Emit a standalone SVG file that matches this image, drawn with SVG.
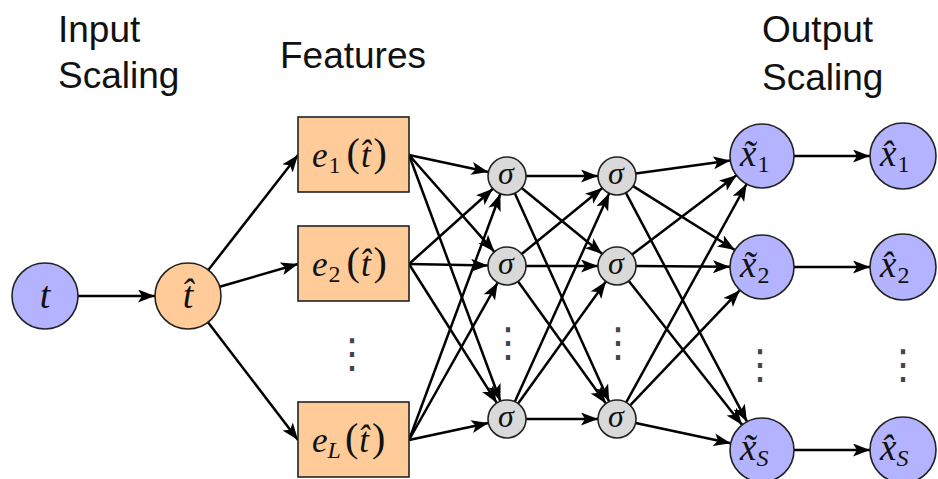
<svg xmlns="http://www.w3.org/2000/svg" width="938" height="479" viewBox="0 0 938 479">
<defs>
<marker id="ah" markerUnits="userSpaceOnUse" markerWidth="18" markerHeight="14" refX="17" refY="6.5" orient="auto">
<path d="M0,0 L17,6.5 L0,13 L4,6.5 z" fill="#000"/>
</marker>
</defs>
<style>
.lbl{font-family:"Liberation Sans",Arial,sans-serif;font-size:37px;fill:#111}
.m{font-family:"Liberation Serif","Times New Roman",serif;font-style:italic;fill:#111}
.r{font-family:"Liberation Serif","Times New Roman",serif;font-style:normal;fill:#111}
.blue{fill:#b3b3ff;stroke:#222;stroke-width:1.6}
.orange{fill:#ffcc99;stroke:#222;stroke-width:1.6}
.gray{fill:#d9d9d9;stroke:#222;stroke-width:1.6}
.e line{stroke:#000;stroke-width:2.5;marker-end:url(#ah)}
.dots{font-family:"DejaVu Sans",sans-serif;font-size:40px;fill:#444;text-anchor:middle}
</style>
<rect width="938" height="479" fill="#fff"/>

<g id="labels">
<text class="lbl" x="58" y="42">Input</text>
<text class="lbl" x="58" y="88">Scaling</text>
<text class="lbl" x="280" y="68">Features</text>
<text class="lbl" x="762" y="42">Output</text>
<text class="lbl" x="762" y="90">Scaling</text>
</g>

<g id="edges" class="e">
<line x1="78" y1="296" x2="155" y2="296"/>
<line x1="208.3" y1="270" x2="298" y2="155"/>
<line x1="219.7" y1="286.8" x2="298" y2="264"/>
<line x1="208" y1="322.2" x2="298" y2="440"/>

<line x1="409" y1="155" x2="488.4" y2="172"/>
<line x1="409" y1="155" x2="494.4" y2="251.8"/>
<line x1="409" y1="155" x2="500.4" y2="401.2"/>
<line x1="409" y1="264" x2="492.9" y2="188.7"/>
<line x1="409" y1="264" x2="488" y2="265.6"/>
<line x1="409" y1="264" x2="496.8" y2="402.9"/>
<line x1="409" y1="440" x2="500.4" y2="193.8"/>
<line x1="409" y1="440" x2="497.7" y2="282.6"/>
<line x1="409" y1="440" x2="488.4" y2="423"/>

<line x1="526" y1="176" x2="598" y2="176"/>
<line x1="521.7" y1="188" x2="602.3" y2="254"/>
<line x1="514.8" y1="193.3" x2="609.2" y2="401.7"/>
<line x1="521.7" y1="254" x2="602.3" y2="188"/>
<line x1="526" y1="266" x2="598" y2="266"/>
<line x1="518.1" y1="281.4" x2="605.9" y2="403.6"/>
<line x1="514.8" y1="401.7" x2="609.2" y2="193.3"/>
<line x1="518.1" y1="403.6" x2="605.9" y2="281.4"/>
<line x1="526" y1="419" x2="598" y2="419"/>

<line x1="635.8" y1="173.4" x2="730.3" y2="160.4"/>
<line x1="633.1" y1="186.1" x2="734.9" y2="250"/>
<line x1="625.9" y1="192.8" x2="747" y2="421.7"/>
<line x1="632.1" y1="254.5" x2="736.5" y2="175.3"/>
<line x1="636" y1="266.1" x2="730" y2="266.8"/>
<line x1="628.8" y1="280.9" x2="742.2" y2="424.9"/>
<line x1="626.2" y1="402.4" x2="746.6" y2="184"/>
<line x1="630.1" y1="405.3" x2="739.9" y2="290.2"/>
<line x1="635.6" y1="423" x2="730.7" y2="443.3"/>

<line x1="794" y1="156" x2="870" y2="156"/>
<line x1="794" y1="267" x2="870" y2="267"/>
<line x1="794" y1="450" x2="870" y2="450"/>
</g>

<g id="node-t">
<circle class="blue" cx="45" cy="296" r="33"/>
<text class="m" x="45" y="308" font-size="38" text-anchor="middle">t</text>
</g>
<g id="node-that">
<circle class="orange" cx="188" cy="296" r="33"/>
<text class="m" x="188" y="308" font-size="38" text-anchor="middle">t̂</text>
</g>

<g id="node-e1">
<rect class="orange" x="298" y="117" width="111" height="75"/>
<text x="312" y="167"><tspan class="m" font-size="35">e</tspan><tspan class="r" font-size="24" dx="1" dy="6">1</tspan><tspan class="r" font-size="40" dx="6" dy="-7">(</tspan><tspan class="m" font-size="35" dx="1" dy="1">t̂</tspan><tspan class="r" font-size="40" dx="3" dy="-1">)</tspan></text>
</g>
<g id="node-e2">
<rect class="orange" x="298" y="226" width="111" height="75"/>
<text x="312" y="276"><tspan class="m" font-size="35">e</tspan><tspan class="r" font-size="24" dx="1" dy="6">2</tspan><tspan class="r" font-size="40" dx="6" dy="-7">(</tspan><tspan class="m" font-size="35" dx="1" dy="1">t̂</tspan><tspan class="r" font-size="40" dx="3" dy="-1">)</tspan></text>
</g>
<g id="node-eL">
<rect class="orange" x="298" y="402" width="111" height="75"/>
<text x="312" y="452"><tspan class="m" font-size="35">e</tspan><tspan class="m" font-size="24" dx="0" dy="6">L</tspan><tspan class="r" font-size="40" dx="4" dy="-7">(</tspan><tspan class="m" font-size="35" dx="1" dy="1">t̂</tspan><tspan class="r" font-size="40" dx="3" dy="-1">)</tspan></text>
</g>
<text class="dots" x="352" y="367">⋮</text>

<g id="node-s11"><circle class="gray" cx="507" cy="176" r="19"/><text class="m" x="506" y="184" font-size="32" text-anchor="middle">σ</text></g>
<g id="node-s12"><circle class="gray" cx="507" cy="266" r="19"/><text class="m" x="506" y="274" font-size="32" text-anchor="middle">σ</text></g>
<g id="node-s13"><circle class="gray" cx="507" cy="419" r="19"/><text class="m" x="506" y="427" font-size="32" text-anchor="middle">σ</text></g>
<g id="node-s21"><circle class="gray" cx="617" cy="176" r="19"/><text class="m" x="616" y="184" font-size="32" text-anchor="middle">σ</text></g>
<g id="node-s22"><circle class="gray" cx="617" cy="266" r="19"/><text class="m" x="616" y="274" font-size="32" text-anchor="middle">σ</text></g>
<g id="node-s23"><circle class="gray" cx="617" cy="419" r="19"/><text class="m" x="616" y="427" font-size="32" text-anchor="middle">σ</text></g>
<text class="dots" x="508" y="356">⋮</text>
<text class="dots" x="618" y="356">⋮</text>

<g id="node-xt1"><circle class="blue" cx="762" cy="156" r="32"/>
<text x="740" y="166"><tspan class="m" font-size="37">x̃</tspan><tspan class="r" font-size="24" dx="1" dy="6">1</tspan></text></g>
<g id="node-xt2"><circle class="blue" cx="762" cy="267" r="32"/>
<text x="740" y="277"><tspan class="m" font-size="37">x̃</tspan><tspan class="r" font-size="24" dx="1" dy="6">2</tspan></text></g>
<g id="node-xtS"><circle class="blue" cx="762" cy="450" r="32"/>
<text x="740" y="460"><tspan class="m" font-size="37">x̃</tspan><tspan class="m" font-size="24" dx="0" dy="6">S</tspan></text></g>
<text class="dots" x="760" y="378">⋮</text>

<g id="node-xh1"><circle class="blue" cx="903" cy="156" r="33"/>
<text x="880" y="166"><tspan class="m" font-size="37">x̂</tspan><tspan class="r" font-size="24" dx="1" dy="6">1</tspan></text></g>
<g id="node-xh2"><circle class="blue" cx="903" cy="267" r="33"/>
<text x="880" y="277"><tspan class="m" font-size="37">x̂</tspan><tspan class="r" font-size="24" dx="1" dy="6">2</tspan></text></g>
<g id="node-xhS"><circle class="blue" cx="903" cy="450" r="33"/>
<text x="880" y="460"><tspan class="m" font-size="37">x̂</tspan><tspan class="m" font-size="24" dx="0" dy="6">S</tspan></text></g>
<text class="dots" x="903" y="378">⋮</text>
</svg>
